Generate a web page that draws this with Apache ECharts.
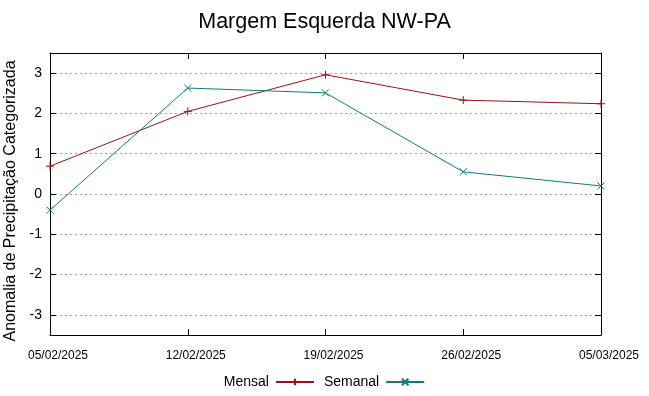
<!DOCTYPE html>
<html><head><meta charset="utf-8">
<script src="https://cdn.jsdelivr.net/npm/echarts@6/dist/echarts.min.js"></script>
<style>html,body{margin:0;padding:0;background:#fff}#c{width:649px;height:396px}</style>
</head><body><div id="c"></div>
<script>
const categories = ['05/02/2025','12/02/2025','19/02/2025','26/02/2025','05/03/2025'];
const mensal = [0.69, 2.05, 2.96, 2.33, 2.24];
const semanal = [-0.40, 2.63, 2.51, 0.55, 0.20];
const seriesNames = ['Mensal','Semanal'];

const plusSym = 'path://M0,5L10,5M5,0L5,10';
const crossSym = 'path://M0,0L10,10M10,0L0,10';
const font = 'Liberation Sans, Arial, sans-serif';
const chart = echarts.init(document.getElementById('c'), null, {renderer:'canvas'});
chart.setOption({
  animation:false,
  title:{text:'Margem Esquerda NW-PA', left:'center', top:6,
    textStyle:{fontFamily:font, fontSize:21.5, fontWeight:'normal', color:'#000'}},
  grid:{left:50, right:48, top:53, bottom:61, containLabel:false, outerBoundsMode:'none'},
  legend:{bottom:2, left:'center', align:'right', itemWidth:38, itemHeight:8, itemGap:9,
    textStyle:{fontFamily:font, fontSize:14, color:'#000', padding:[0,2,0,0]},
    data:seriesNames},
  xAxis:[{type:'category', data:categories, boundaryGap:false,
    axisLine:{onZero:false, lineStyle:{color:'#000', width:1}},
    axisTick:{inside:true, length:6, lineStyle:{color:'#000'}},
    axisLabel:{fontFamily:font, fontSize:12, color:'#000', margin:15, interval:0,
      padding:[0,0,0,16]},
    splitLine:{show:false}},
   {type:'category', data:categories, boundaryGap:false, position:'top',
    axisLine:{onZero:false, lineStyle:{color:'#000', width:1}},
    axisTick:{inside:true, length:6, lineStyle:{color:'#000'}},
    axisLabel:{show:false}, splitLine:{show:false}}],
  yAxis:[{type:'value', min:-3.5, max:3.5, splitNumber:7,
    name:'Anomalia de Precipitação Categorizada', nameLocation:'middle', nameGap:26,
    nameTextStyle:{fontFamily:font, fontSize:16, color:'#000', padding:[0,14,0,0]},
    axisLine:{show:true, onZero:false, lineStyle:{color:'#000', width:1}},
    axisTick:{show:true, inside:true, length:6, lineStyle:{color:'#000'}},
    axisLabel:{fontFamily:font, fontSize:14, color:'#000', margin:8,
      formatter:v => Number.isInteger(Math.round(v*1000)/1000) ? String(Math.round(v)) : ''},
    splitLine:{show:true, lineStyle:{color:'#a0a0a0', type:[2,3], width:1}}},
   {type:'value', min:-3.5, max:3.5, splitNumber:7, position:'right',
    axisLine:{show:true, onZero:false, lineStyle:{color:'#000', width:1}},
    axisTick:{show:true, inside:true, length:6, lineStyle:{color:'#000'}},
    axisLabel:{show:false}, splitLine:{show:false}}],
  series:[
    {name:seriesNames[0], type:'line', data:mensal, symbol:plusSym, symbolSize:8,
     lineStyle:{color:'#a01010', width:1}, itemStyle:{color:'#a01010', borderColor:'#a01010', borderWidth:1}},
    {name:seriesNames[1], type:'line', data:semanal, symbol:crossSym, symbolSize:7,
     lineStyle:{color:'#107a7a', width:1}, itemStyle:{color:'#107a7a', borderColor:'#107a7a', borderWidth:1}}
  ]
});
</script></body></html>
